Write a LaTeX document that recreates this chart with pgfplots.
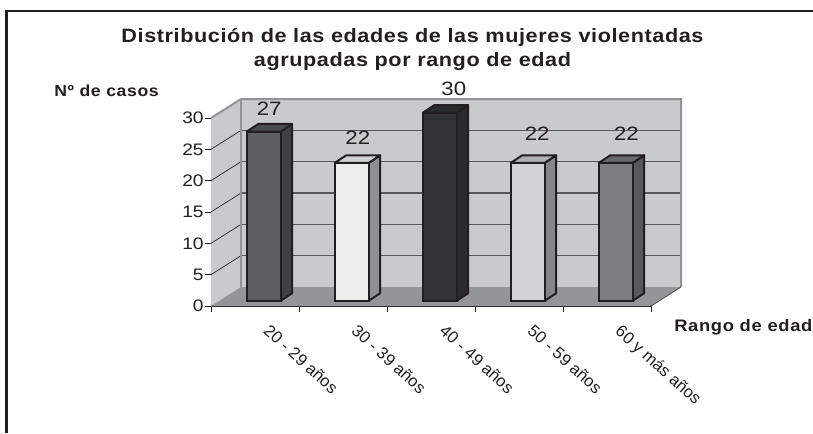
\documentclass[border=0pt]{standalone}
\usepackage{fontspec}
\usepackage{pgfplots}
\pgfplotsset{compat=1.18}
\setmainfont{Liberation Sans}
\newfontfamily\lab[FakeStretch=1.15]{Liberation Sans}
\newfontfamily\rot{Liberation Sans}
\newfontfamily\ttl[FakeStretch=1.12,LetterSpace=3]{Liberation Sans Bold}
\newfontfamily\axt[FakeStretch=1.1,LetterSpace=4]{Liberation Sans Bold}
\definecolor{wall}{HTML}{C9CACC}
\definecolor{floorc}{HTML}{949598}
\definecolor{edge}{HTML}{929396}
\definecolor{grid}{HTML}{57585A}
\definecolor{txt}{HTML}{231F20}
\definecolor{af}{HTML}{5C5D5F}\definecolor{as}{HTML}{3F4042}\definecolor{at}{HTML}{4A4B4D}
\definecolor{bf}{HTML}{EEEEEE}\definecolor{bs}{HTML}{8F9092}\definecolor{bt}{HTML}{D0D1D2}
\definecolor{cf}{HTML}{333335}\definecolor{cs}{HTML}{2A2A2C}\definecolor{ct}{HTML}{2A2A2C}
\definecolor{df}{HTML}{D2D3D5}\definecolor{ds}{HTML}{858688}\definecolor{dt}{HTML}{B0B1B3}
\definecolor{ef}{HTML}{7C7D7F}\definecolor{es}{HTML}{58595B}\definecolor{et}{HTML}{68696B}
\pgfplotsset{
  face/.style={draw=txt,line width=1.5pt,line join=round,xshift=6.6pt,yshift=3.975pt},
  barf/.style 2 args={ybar,bar width=25.5pt,bar shift=0pt,fill=#1,draw=txt,line width=1.5pt,xshift=6.6pt,yshift=3.975pt,
    nodes near coords,nodes near coords style={font=\lab\fontsize{14.5}{14.5}\selectfont,text=txt,anchor=center,#2}},
}
\begin{document}
\begin{tikzpicture}
\path[use as bounding box,fill=white] (0,0) rectangle (609.75pt,324.75pt);
\begin{axis}[
  at={(158.25pt,95.25pt)},anchor=south west,
  scale only axis,width=330pt,height=141pt,
  xmin=-0.5,xmax=4.5,ymin=0,ymax=30,clip=false,
  axis x line*=bottom,axis y line*=left,
  axis line style={-,draw=txt,line width=0.7pt},
  xtick={0,1,2,3,4},
  xticklabels={20 - 29 años,30 - 39 años,40 - 49 años,50 - 59 años,60 y más años},
  major tick length=4.5pt,
  x tick style={draw=none},
  extra x ticks={-0.5,0.5,1.5,2.5,3.5,4.5},
  extra x tick labels={},
  extra x tick style={x tick style={draw=txt,line width=0.7pt}},
  ytick={0,5,10,15,20,25,30},
  y tick style={draw=txt,line width=0.7pt},
  tick align=outside,
  /pgf/number format/assume math mode=true,
  yticklabel style={font=\lab\fontsize{12.5}{12.5}\selectfont,text=txt,xshift=2.5pt},
  xticklabel style={font=\rot\fontsize{12.5}{12.5}\selectfont,text=txt,rotate=-42,anchor=north west,xshift=11.1pt,yshift=4.8pt},
]
% walls and floor
\addplot[fill=wall,draw=none] coordinates {(-0.5,0)(-0.159,3.03)(-0.159,33.03)(-0.5,30)} -- cycle;
\addplot[fill=wall,draw=none] coordinates {(-0.159,3.03)(4.841,3.03)(4.841,33.03)(-0.159,33.03)} -- cycle;
\addplot[fill=floorc,draw=none] coordinates {(-0.5,0)(4.5,0)(4.841,3.03)(-0.159,3.03)} -- cycle;
% gridlines
\addplot[draw=grid,line width=0.8pt] coordinates {(-0.159,8.03)(4.841,8.03)};
\addplot[draw=grid,line width=0.8pt] coordinates {(-0.159,13.03)(4.841,13.03)};
\addplot[draw=grid,line width=0.8pt] coordinates {(-0.159,18.03)(4.841,18.03)};
\addplot[draw=grid,line width=0.8pt] coordinates {(-0.159,23.03)(4.841,23.03)};
\addplot[draw=grid,line width=0.8pt] coordinates {(-0.159,28.03)(4.841,28.03)};
\addplot[draw=txt,line width=0.5pt] coordinates {(-0.5,5)(-0.159,8.03)};
\addplot[draw=txt,line width=0.5pt] coordinates {(-0.5,10)(-0.159,13.03)};
\addplot[draw=txt,line width=0.5pt] coordinates {(-0.5,15)(-0.159,18.03)};
\addplot[draw=txt,line width=0.5pt] coordinates {(-0.5,20)(-0.159,23.03)};
\addplot[draw=txt,line width=0.5pt] coordinates {(-0.5,25)(-0.159,28.03)};
% wall edges
\addplot[draw=edge,line width=1.5pt] coordinates {(-0.5,30)(-0.159,33.03)(4.841,33.03)(4.841,3.03)};
\addplot[draw=edge,line width=1.2pt] coordinates {(-0.159,33.03)(-0.159,3.03)};
\addplot[draw=grid,line width=0.7pt] coordinates {(4.5,0)(4.841,3.03)};
% bar 1
\addplot[face,fill=as] coordinates {(0.193,0)(0.323,1.2)(0.323,28.2)(0.193,27)} -- cycle;
\addplot[face,fill=at] coordinates {(-0.193,27)(0.193,27)(0.323,28.2)(-0.063,28.2)} -- cycle;
\addplot[barf={af}{xshift=4pt,yshift=17pt}] coordinates {(0,27)};
% bar 2
\addplot[face,fill=bs] coordinates {(1.193,0)(1.323,1.2)(1.323,23.2)(1.193,22)} -- cycle;
\addplot[face,fill=bt] coordinates {(0.807,22)(1.193,22)(1.323,23.2)(0.937,23.2)} -- cycle;
\addplot[barf={bf}{xshift=4.5pt,yshift=18.8pt}] coordinates {(1,22)};
% bar 3
\addplot[face,fill=cs] coordinates {(2.193,0)(2.323,1.2)(2.323,31.2)(2.193,30)} -- cycle;
\addplot[face,fill=ct] coordinates {(1.807,30)(2.193,30)(2.323,31.2)(1.937,31.2)} -- cycle;
\addplot[barf={cf}{xshift=10.5pt,yshift=17.8pt}] coordinates {(2,30)};
% bar 4
\addplot[face,fill=ds] coordinates {(3.193,0)(3.323,1.2)(3.323,23.2)(3.193,22)} -- cycle;
\addplot[face,fill=dt] coordinates {(2.807,22)(3.193,22)(3.323,23.2)(2.937,23.2)} -- cycle;
\addplot[barf={df}{xshift=7pt,yshift=21.8pt}] coordinates {(3,22)};
% bar 5
\addplot[face,fill=es] coordinates {(4.193,0)(4.323,1.2)(4.323,23.2)(4.193,22)} -- cycle;
\addplot[face,fill=et] coordinates {(3.807,22)(4.193,22)(4.323,23.2)(3.937,23.2)} -- cycle;
\addplot[barf={ef}{xshift=8pt,yshift=21.8pt}] coordinates {(4,22)};
\end{axis}
\begin{scope}[x=0.75pt,y=-0.75pt,shift={(0pt,324.75pt)}]
  \draw[draw=txt,line width=2pt] (6.5,433) -- (6.5,11) -- (813,11);
  \node[anchor=base,text=txt,inner sep=0pt] at (412.5,42.5) {\ttl\fontsize{14.5}{14.5}\selectfont Distribución de las edades de las mujeres violentadas};
  \node[anchor=base,text=txt,inner sep=0pt] at (412.5,67) {\ttl\fontsize{14.5}{14.5}\selectfont agrupadas por rango de edad};
  \node[anchor=base west,text=txt,inner sep=0pt] at (54,96.5) {\axt\fontsize{12}{12}\selectfont Nº de casos};
  \node[anchor=base west,text=txt,inner sep=0pt] at (674,331.5) {\axt\fontsize{12.5}{12.5}\selectfont Rango de edad};
\end{scope}
\end{tikzpicture}
\end{document}
